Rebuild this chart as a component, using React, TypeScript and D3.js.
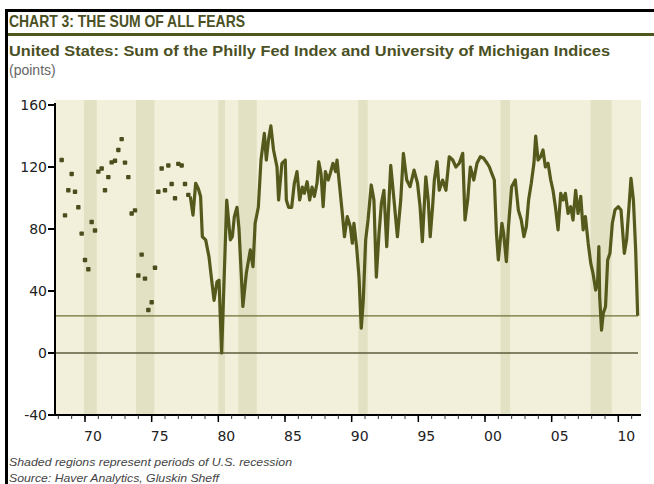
import React from 'react';
import * as d3 from 'd3';

// quarterly readings before the monthly series begins
const dotYears = [1968.25, 1968.5, 1968.75, 1969.0, 1969.25, 1969.5, 1969.75, 1970.0, 1970.25, 1970.5,
  1970.75, 1971.0, 1971.25, 1971.5, 1971.75, 1972.0, 1972.25, 1972.5, 1972.75, 1973.0,
  1973.25, 1973.5, 1973.75, 1974.0, 1974.25, 1974.5, 1974.75, 1975.0, 1975.25, 1975.5,
  1975.75, 1976.0, 1976.25, 1976.5, 1976.75, 1977.0, 1977.25, 1977.5, 1977.75];
const dotValues = [124.5, 88.8, 105, 115.5, 104, 94, 77, 60, 54, 84.5,
  79, 117, 119, 105, 113.5, 123, 124, 131, 138, 122.8,
  113.5, 90, 92, 50, 63.5, 48, 27.7, 32.7, 55, 104,
  119, 105, 121, 109, 99.8, 122, 121, 109, 102];

// monthly-ish series from late 1977
const lineYears = [1977.9, 1978.1, 1978.3, 1978.5, 1978.67, 1978.8, 1979.05, 1979.3, 1979.5, 1979.68,
  1979.9, 1980.05, 1980.25, 1980.63, 1980.9, 1981.05, 1981.2, 1981.4, 1981.55, 1981.84,
  1982.1, 1982.4, 1982.6, 1982.76, 1983.0, 1983.2, 1983.45, 1983.6, 1983.76, 1983.94,
  1984.14, 1984.4, 1984.52, 1984.77, 1985.02, 1985.1, 1985.27, 1985.5, 1985.7, 1985.9,
  1986.1, 1986.3, 1986.45, 1986.66, 1986.85, 1987.03, 1987.2, 1987.4, 1987.53, 1987.7,
  1987.86, 1988.03, 1988.24, 1988.4, 1988.6, 1988.8, 1988.9, 1989.1, 1989.3, 1989.46,
  1989.67, 1989.9, 1990.05, 1990.17, 1990.37, 1990.55, 1990.72, 1990.87, 1991.05, 1991.23,
  1991.47, 1991.67, 1991.85, 1992.05, 1992.23, 1992.42, 1992.63, 1992.93, 1993.15, 1993.43,
  1993.68, 1993.88, 1994.13, 1994.38, 1994.68, 1994.94, 1995.13, 1995.3, 1995.56, 1995.74,
  1995.89, 1996.07, 1996.2, 1996.4, 1996.57, 1996.82, 1997.07, 1997.32, 1997.58, 1997.82,
  1998.07, 1998.33, 1998.5, 1998.7, 1998.9, 1999.16, 1999.4, 1999.65, 1999.9, 2000.16,
  2000.33, 2000.5, 2000.7, 2000.86, 2001.0, 2001.27, 2001.4, 2001.6, 2001.76, 2002.0,
  2002.27, 2002.5, 2002.72, 2002.92, 2003.1, 2003.27, 2003.47, 2003.67, 2003.8, 2003.98,
  2004.17, 2004.35, 2004.53, 2004.73, 2004.93, 2005.1, 2005.28, 2005.48, 2005.68, 2005.86,
  2006.03, 2006.23, 2006.43, 2006.6, 2006.8, 2006.98, 2007.18, 2007.36, 2007.53, 2007.74,
  2007.93, 2008.1, 2008.3, 2008.44, 2008.54, 2008.6, 2008.74, 2008.87, 2009.04, 2009.2,
  2009.37, 2009.55, 2009.75, 2010.0, 2010.2, 2010.45, 2010.62, 2010.8, 2010.95, 2011.13,
  2011.3, 2011.45];
const lineValues = [101, 89, 109.5, 106, 101, 75, 73, 62, 47, 34,
  46, 47, 0, 98.7, 73, 75, 88, 94, 80, 30,
  51.6, 66.5, 55.7, 83.7, 94, 124.5, 141.7, 124.5, 137.4, 146.5,
  131, 120, 98.7, 122.4, 124.5, 98.7, 94, 94, 109.5, 117,
  98.7, 107, 103, 110.5, 98.7, 107, 101, 109.5, 123.4, 116,
  94.4, 117, 111.6, 116, 122.4, 117, 124.5, 107.3, 90, 75,
  88, 81.5, 70.8, 83.7, 68.6, 49, 16, 34, 73, 86,
  108.4, 98.7, 49, 77, 96.6, 105, 68.6, 121, 101, 75,
  98.7, 128.8, 111.6, 107.3, 118, 109.5, 94.4, 71.8, 113.7, 98.7,
  75, 94.4, 111.6, 123.4, 105, 111.6, 105, 126.6, 124.5, 120,
  122.4, 128.8, 85.8, 98.7, 120, 111.6, 122.4, 126.6, 125.6, 122.4,
  120, 116, 111.6, 77, 60, 83.7, 77, 59, 81.5, 107.3,
  111.6, 92.3, 85.8, 75, 81.5, 98.7, 109.5, 122.4, 140, 124.5,
  126.6, 131, 120, 122.4, 111.6, 105, 94.4, 79.4, 103, 98.7,
  103, 90, 94.4, 85.8, 105, 90, 101, 79.4, 88, 70.8,
  58, 51.4, 40.6, 45, 68.6, 36.3, 14.8, 25.6, 30, 60,
  64.3, 83.7, 92.3, 94.4, 92.3, 64.3, 73, 94.4, 112.7, 98.7,
  66.5, 24];

const recessionStarts = [1969.92, 1973.83, 1980.0, 1981.5, 1990.5, 2001.17, 2007.92];
const recessionEnds = [1970.88, 1975.2, 1980.5, 1982.88, 1991.2, 2001.88, 2009.5];

const yTicks = [160, 120, 80, 40, 0, -40];
const xMajor = [1970, 1975, 1980, 1985, 1990, 1995, 2000, 2005, 2010];
const xLabels = ['70', '75', '80', '85', '90', '95', '00', '05', '10'];
const refLevel = 24;

const W = 654;
const H = 484;
const plot = { left: 55, right: 641, top: 100, bottom: 415 };

export default function App() {
  const x = d3.scaleLinear().domain([1967.75, 2011.7]).range([plot.left, plot.right]);
  const y = d3.scaleLinear().domain([-40, 160]).range([415, 105]);

  const line = d3.line<number>()
    .x((d, i) => x(lineYears[i]))
    .y(d => y(d));

  const minorYears = d3.range(1968, 2012);
  const olive = '#545a1b';
  const axisFont = '"DejaVu Sans", sans-serif';

  return (
    <svg width={W} height={H} style={{ position: 'absolute', left: 0, top: 0, background: '#fff' }}>
      {/* frame */}
      <rect x={5} y={9} width={W - 5} height={3} fill="#000" />
      <rect x={5} y={9} width={3} height={H - 9} fill="#000" />

      {/* titles */}
      <text x={9} y={27} fontFamily='"Liberation Sans Narrow", "Liberation Sans", sans-serif' fontWeight="bold"
        fontSize={16.5} fill="#4b5124" textLength={236} lengthAdjust="spacingAndGlyphs">CHART 3: THE SUM OF ALL FEARS</text>
      <rect x={8} y={33} width={W - 8} height={3} fill="#4f571f" />
      <text x={9} y={56} fontFamily='"Liberation Sans", sans-serif' fontWeight="bold" fontSize={14}
        fill="#4b5124" textLength={601} lengthAdjust="spacingAndGlyphs">
        United States: Sum of the Philly Fed Index and University of Michigan Indices
      </text>
      <text x={9} y={75} fontFamily='"Liberation Sans", sans-serif' fontSize={14} fill="#666">(points)</text>

      {/* plot background and recessions */}
      <rect x={plot.left} y={plot.top} width={plot.right - plot.left} height={plot.bottom - plot.top} fill="#f2f0da" />
      {recessionStarts.map((s, i) => (
        <rect key={'r' + i} x={x(s)} y={plot.top} width={x(recessionEnds[i]) - x(s)}
          height={plot.bottom - plot.top} fill="#e2e1c3" />
      ))}

      {/* reference lines */}
      <line x1={plot.left} x2={plot.right - 3} y1={y(0)} y2={y(0)} stroke="#5b5d3c" strokeWidth={1.3} />
      <line x1={plot.left} x2={plot.right - 3} y1={y(refLevel)} y2={y(refLevel)} stroke="#6c7035" strokeWidth={1.3} />

      {/* quarterly dots */}
      {dotValues.map((v, i) => (
        <rect key={'d' + i} x={x(dotYears[i]) - 2.2} y={y(v) - 2.2} width={4.4} height={4.4} rx={0.8} fill="#4a4d1c" />
      ))}

      {/* series line */}
      <path d={line(lineValues) || ''} fill="none" stroke={olive} strokeWidth={3.2} strokeLinejoin="round" />

      {/* y axis */}
      <line x1={plot.left} x2={plot.left} y1={y(160) - 2} y2={plot.bottom} stroke="#000" strokeWidth={2} />
      {yTicks.map(t => (
        <g key={'y' + t}>
          <line x1={plot.left - 7} x2={plot.left} y1={y(t)} y2={y(t)} stroke="#000" strokeWidth={2} />
          <text x={plot.left - 8} y={y(t) + 5} textAnchor="end" fontFamily={axisFont} fontSize={14} fill="#222">{t}</text>
        </g>
      ))}

      {/* x axis */}
      <line x1={plot.left} x2={plot.right} y1={plot.bottom} y2={plot.bottom} stroke="#000" strokeWidth={2} />
      {minorYears.map(yr => (
        <line key={'m' + yr} x1={x(yr)} x2={x(yr)} y1={plot.bottom} y2={plot.bottom + 4} stroke="#333" strokeWidth={1} />
      ))}
      {xMajor.map((yr, i) => (
        <g key={'x' + yr}>
          <line x1={x(yr)} x2={x(yr)} y1={plot.bottom} y2={plot.bottom + 7} stroke="#000" strokeWidth={1.5} />
          <text x={x(yr) + 8} y={441} textAnchor="middle" fontFamily={axisFont} fontSize={14} fill="#222">{xLabels[i]}</text>
        </g>
      ))}

      {/* notes */}
      <text x={9} y={466} fontFamily='"Liberation Sans", sans-serif' fontStyle="italic" fontSize={11} fill="#444"
        textLength={283} lengthAdjust="spacingAndGlyphs">Shaded regions represent periods of U.S. recession</text>
      <text x={9} y={482} fontFamily='"Liberation Sans", sans-serif' fontStyle="italic" fontSize={10.5} fill="#444"
        textLength={210} lengthAdjust="spacingAndGlyphs">Source: Haver Analytics, Gluskin Sheff</text>
    </svg>
  );
}
